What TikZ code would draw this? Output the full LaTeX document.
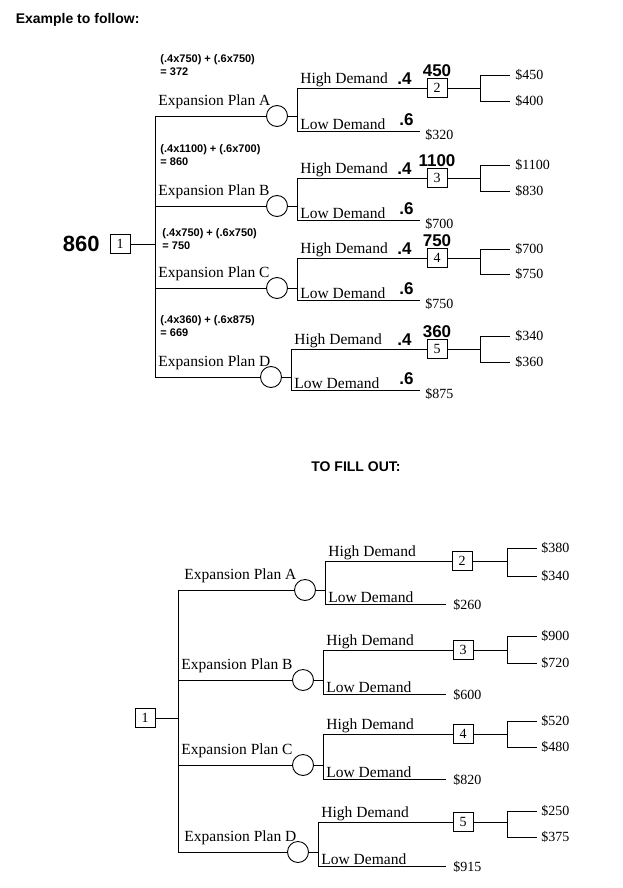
\documentclass[tikz,border=0pt]{standalone}
\usepackage{fontspec}
\setmainfont{Liberation Serif}
\newfontfamily\arialf{Liberation Sans}
\begin{document}
\begin{tikzpicture}[x=1pt,y=-1pt,line width=0.9pt,
  dbox/.style={draw,minimum width=20pt,minimum height=19pt,inner sep=0pt,font=\fontsize{14}{14}\selectfont},
  chance/.style={draw,circle,minimum size=21pt,inner sep=0pt},
  lbl/.style={font=\fontsize{15.5}{15.5}\selectfont,inner sep=1pt},
  val/.style={font=\fontsize{14}{14}\selectfont,inner sep=1pt},
  bsf/.style={font=\arialf\bfseries\fontsize{22}{22}\selectfont,inner sep=0pt},
  prob/.style={font=\arialf\bfseries\fontsize{17}{17}\selectfont,inner sep=0pt},
  frm/.style={font=\arialf\bfseries\fontsize{11}{13}\selectfont,align=left,inner sep=0pt,anchor=north west}]
\useasboundingbox (0,0) rectangle (622,888);
\node[anchor=west,font=\arialf\bfseries\fontsize{14}{14}\selectfont] (t1) at (12,20) {Example to follow:};
\node[font=\arialf\bfseries\fontsize{14}{14}\selectfont] (t2) at (356,467) {TO FILL OUT:};
% #1 prefix, #2 trunk x, #3 plan y, #4 circle x, #5 label, #6 high y, #7 low y, #8 box x, #9 box text
\newcommand\plan[9]{%
  \node[chance] (#1c) at (#4,#3) {};
  \coordinate (#1t) at (#2,#3);
  \draw (#1t) -- (#1c.west);
  \node[lbl,anchor=south west] (#1l) at (#2+2,#3-6) {#5};
  \coordinate (#1f) at (#4+20,#3);
  \draw (#1c.east) -- (#1f);
  \coordinate (#1h) at (#4+20,#6);
  \coordinate (#1o) at (#4+20,#7);
  \draw (#1h) -- (#1o);
  \node[dbox] (#1b) at (#8,#6) {#9};
  \draw (#1h) -- (#1b.west);
  \node[lbl,anchor=south west] (#1hl) at (#4+22,#6) {High Demand};
  \node[lbl,anchor=south west] (#1ll) at (#4+22,#7) {Low Demand};
}
% ===== TOP =====
\node[dbox] (r1) at (120,244) {1};
\node[bsf,anchor=east] (r860) at (100,244) {860};
\coordinate (rt) at (155,244);
\draw (r1.east) -- (rt);
\draw (155,116) -- (155,377);
\plan{a}{155}{116}{277}{Expansion Plan A}{88}{131}{437}{2}
\plan{b}{155}{206}{277}{Expansion Plan B}{178}{220}{437}{3}
\plan{c}{155}{288}{277}{Expansion Plan C}{258}{300}{437}{4}
\plan{d}{155}{377}{271}{Expansion Plan D}{349}{390}{437}{5}
\foreach \p/\hy/\ly/\fa/\fb/\va/\vb/\lv/\bv in {
  a/88/131/75/101/450/400/320/450,
  b/178/220/165/191/1100/830/700/1100,
  c/258/300/249/274/700/750/750/750,
  d/349/390/336/362/340/360/875/360}{
  \coordinate (\p le) at (420,\ly);
  \draw (\p o) -- (\p le);
  \node[val,anchor=west] (\p lv) at (424,\ly+4) {\$\lv};
  \draw (\p b.east) -- (480,\hy);
  \draw (480,\fa) -- (480,\fb) (480,\fa) -- (510,\fa) (480,\fb) -- (510,\fb);
  \node[val,anchor=west] (\p v1) at (514,\fa) {\$\va};
  \node[val,anchor=west] (\p v2) at (514,\fb) {\$\vb};
  \node[prob,anchor=south,inner sep=1pt] (\p bv) at (\p b.north) {\bv};
  \node[prob,anchor=south west] (\p p4) at (397,\hy-3) {.4};
  \node[prob,anchor=south west] (\p p6) at (399,\ly-5) {.6};
}
\node[frm] (fa) at (160,54) {(.4x750) + (.6x750)\\= 372};
\node[frm] (fb) at (160,144) {(.4x1100) + (.6x700)\\= 860};
\node[frm] (fc) at (162,228) {(.4x750) + (.6x750)\\= 750};
\node[frm] (fd) at (160,315) {(.4x360) + (.6x875)\\= 669};
% ===== BOTTOM =====
\node[dbox] (s1) at (145,718) {1};
\coordinate (st) at (178,718);
\draw (s1.east) -- (st);
\draw (178,590) -- (178,852);
\plan{e}{178}{590}{305}{\hspace{3pt}Expansion Plan A}{561}{604}{462}{2}
\plan{f}{178}{680}{303}{Expansion Plan B}{650}{694}{463}{3}
\plan{g}{178}{765}{303}{Expansion Plan C}{734}{779}{463}{4}
\plan{h}{178}{852}{298}{\hspace{3pt}Expansion Plan D}{822}{866}{463}{5}
\foreach \p/\hy/\ly/\fa/\fb/\va/\vb/\lv in {
  e/561/604/548/576/380/340/260,
  f/650/694/636/663/900/720/600,
  g/734/779/721/747/520/480/820,
  h/822/866/811/837/250/375/915}{
  \coordinate (\p le) at (446,\ly);
  \draw (\p o) -- (\p le);
  \node[val,anchor=west] (\p lv) at (452,\ly+1) {\$\lv};
  \draw (\p b.east) -- (507,\hy);
  \draw (507,\fa) -- (507,\fb) (507,\fa) -- (537,\fa) (507,\fb) -- (537,\fb);
  \node[val,anchor=west] (\p v1) at (540,\fa) {\$\va};
  \node[val,anchor=west] (\p v2) at (540,\fb) {\$\vb};
}
\end{tikzpicture}
\end{document}
